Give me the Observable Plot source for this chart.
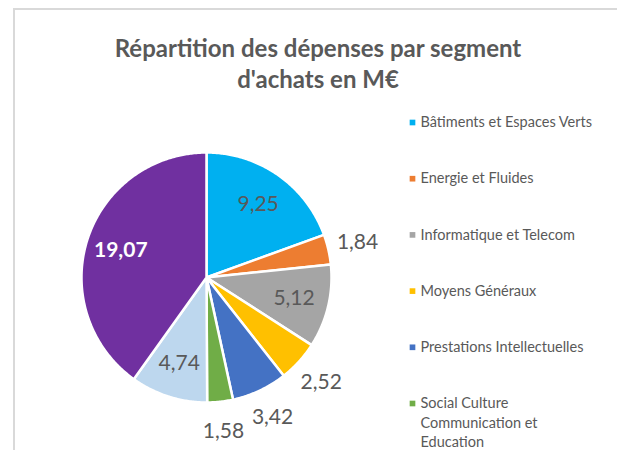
<!DOCTYPE html>
<html><head><meta charset="utf-8">
<script src="https://cdn.jsdelivr.net/npm/d3@7"></script>
<script src="https://cdn.jsdelivr.net/npm/@observablehq/plot@0.6"></script>
<style>
html,body{margin:0;padding:0;background:#fff;}
#wrap{position:relative;width:617px;height:450px;overflow:hidden;font-family:Lato,sans-serif;}
#frame{position:absolute;left:13px;top:8px;right:-5px;bottom:-5px;border-left:2px solid #d9d9d9;border-top:2px solid #d9d9d9;}
#title{position:absolute;left:0;width:636px;top:32px;text-align:center;font-weight:bold;font-size:24px;line-height:31px;color:#595959;}
#chart{position:absolute;left:0;top:0;}
</style></head>
<body><div id="wrap"><div id="frame"></div><div id="chart"></div>
<div id="title">Répartition des dépenses par segment<br>d'achats en M€</div></div>
<script>
const categories = ["Bâtiments et Espaces Verts","Energie et Fluides","Informatique et Telecom","Moyens Généraux","Prestations Intellectuelles","Social Culture Communication et Education","Travaux","Autres"];
const legendLabels = ["Bâtiments et Espaces Verts","Energie et Fluides","Informatique et Telecom","Moyens Généraux","Prestations Intellectuelles","Social Culture\nCommunication et\nEducation"];
const values = [9.25,1.84,5.12,2.52,3.42,1.58,4.74,19.07];
const colors = ["#00B0F0","#ED7D31","#A5A5A5","#FFC000","#4472C4","#70AD47","#BDD7EE","#7030A0"];
const labelInside = [true,false,true,false,false,false,true,true];

const cx = 206, cy = 277, R = 125;
const arcs = d3.pie().sort(null).value(d => d)(values);
const pts = [];
arcs.forEach((a, i) => {
  const cat = categories[i];
  pts.push({cat, x: cx, y: cy});
  const n = Math.max(2, Math.ceil((a.endAngle - a.startAngle) / 0.01));
  for (let k = 0; k <= n; k++) {
    const t = a.startAngle + (a.endAngle - a.startAngle) * k / n;
    pts.push({cat, x: cx + R * Math.sin(t), y: cy - R * Math.cos(t)});
  }
});
const fmt = v => v.toFixed(2).replace(".", ",");
const labels = arcs.map((a, i) => {
  const m = (a.startAngle + a.endAngle) / 2;
  const r = labelInside[i] ? R * 0.72 : R + 30;
  return {cat: categories[i], text: fmt(values[i]), x: cx + r * Math.sin(m), y: cy - r * Math.cos(m), big: i === 7};
});
const legend = legendLabels.map((l, i) => ({cat: categories[i], label: l, y: 122 + i * 56.2}));

const plot = Plot.plot({
  width: 617, height: 450, margin: 0,
  x: {domain: [0, 617], range: [0, 617], axis: null},
  y: {domain: [0, 450], range: [0, 450], axis: null},
  color: {domain: categories, range: colors},
  style: {background: "transparent", fontFamily: "Lato, sans-serif"},
  marks: [
    Plot.line(pts, {x: "x", y: "y", z: "cat", fill: "cat", stroke: "white", strokeWidth: 2.5, curve: "linear-closed"}),
    Plot.text(labels.filter(d => !d.big), {x: "x", y: "y", text: "text", fontSize: 21, fill: "#595959"}),
    Plot.text(labels.filter(d => d.big), {x: "x", y: "y", text: "text", fontSize: 21, fontWeight: "bold", fill: "white"}),
    Plot.dot(legend, {x: () => 412, y: "y", symbol: "square", r: 3.2, fill: "cat", stroke: null}),
    Plot.text(legend, {x: () => 420, y: "y", dy: -9, text: "label", textAnchor: "start", lineAnchor: "top", fontSize: 14.5, fill: "#595959", lineHeight: 1.34})
  ]
});
document.getElementById("chart").appendChild(plot);
</script></body></html>
